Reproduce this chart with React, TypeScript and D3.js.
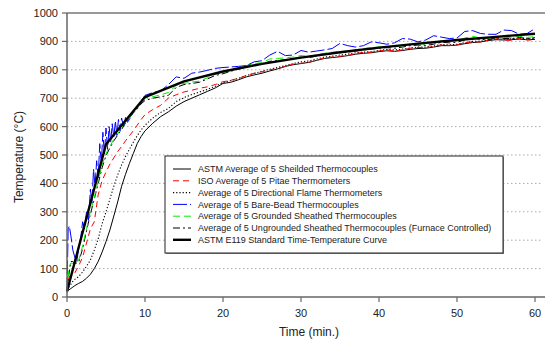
import React from "react";
import * as d3 from "d3";

const timeMain = [0, 0.25, 0.5, 0.75, 1, 1.5, 2, 2.5, 3, 3.5, 4, 4.5, 5, 5.5, 6, 6.5, 7, 7.5, 8, 8.5, 9, 9.5,
  10, 11, 12, 13, 14, 15, 16, 17, 18, 19, 20, 21, 22, 23, 24, 25, 26, 27, 28, 29, 30, 31, 32, 33, 34, 35,
  36, 37, 38, 39, 40, 41, 42, 43, 44, 45, 46, 47, 48, 49, 50, 51, 52, 53, 54, 55, 56, 57, 58, 59, 60];

const shielded = [20, 25, 30, 35, 40, 48, 55, 66, 80, 100, 125, 158, 195, 236, 285, 335, 390, 432, 470, 505, 540, 565,
  585, 612, 635, 652, 672, 688, 700, 712, 724, 736, 752, 756, 765, 775, 782, 788, 796, 803, 812, 818, 822, 826, 833, 840, 843, 846,
  850, 855, 858, 860, 864, 867, 865, 868, 872, 875, 876, 880, 885, 885, 887, 892, 896, 898, 903, 906, 905, 906, 908, 906, 907];

const pitae = [25, 70, 76, 78, 85, 110, 140, 190, 240, 265, 360, 410, 440, 468, 490, 512, 530, 550, 568, 585, 605, 625,
  642, 660, 675, 700, 712, 722, 728, 735, 740, 748, 758, 763, 770, 780, 788, 793, 800, 804, 812, 820, 823, 826, 834, 842, 845, 848,
  850, 858, 861, 862, 866, 870, 866, 870, 876, 879, 878, 882, 888, 886, 888, 895, 899, 898, 905, 910, 904, 904, 910, 905, 905];

const flame = [25, 35, 45, 55, 62, 72, 88, 108, 130, 165, 205, 258, 300, 345, 390, 430, 465, 495, 520, 545, 568, 588,
  605, 630, 650, 664, 688, 702, 713, 722, 731, 742, 755, 762, 770, 780, 787, 795, 802, 808, 815, 822, 828, 831, 838, 845, 848, 852,
  855, 860, 862, 864, 868, 872, 870, 873, 877, 880, 880, 884, 889, 888, 890, 896, 900, 901, 906, 910, 908, 909, 912, 909, 911];

const grounded = [30, 105, 120, 118, 120, 130, 180, 240, 300, 350, 410, 465, 505, 530, 555, 575, 595, 615, 632, 650, 665, 685,
  700, 705, 712, 720, 745, 752, 757, 760, 772, 785, 790, 800, 808, 815, 822, 825, 838, 840, 842, 845, 850, 848, 852, 858, 862, 864,
  866, 870, 875, 878, 880, 882, 880, 885, 890, 892, 890, 896, 902, 900, 902, 912, 918, 912, 910, 918, 915, 914, 918, 914, 917];

const ungrounded = [20, 80, 125, 125, 118, 122, 170, 232, 292, 345, 400, 455, 498, 525, 550, 570, 590, 612, 630, 648, 662, 680,
  692, 700, 705, 710, 738, 748, 752, 756, 768, 780, 786, 795, 802, 810, 816, 820, 830, 832, 836, 840, 845, 843, 848, 853, 857, 860,
  862, 866, 870, 873, 876, 878, 876, 880, 885, 887, 886, 890, 897, 895, 897, 905, 912, 907, 906, 913, 910, 910, 914, 910, 913];

const timeBare = [0, 0.15, 0.3, 0.5, 0.75, 1, 1.25, 1.5, 1.75, 2, 2.25, 2.5, 2.75, 3, 3.2, 3.4, 3.6, 3.8, 4, 4.2, 4.4, 4.6, 4.8,
  5, 5.2, 5.4, 5.6, 5.8, 6, 6.2, 6.4, 6.6, 6.8, 7, 7.25, 7.5, 7.75, 8, 8.5, 9, 9.5, 10,
  11, 12, 13, 14, 15, 16, 17, 18, 19, 20, 21, 22, 23, 24, 25, 26, 27, 28, 29, 30, 31, 32, 33, 34, 35,
  36, 37, 38, 39, 40, 41, 42, 43, 44, 45, 46, 47, 48, 49, 50, 51, 52, 53, 54, 55, 56, 57, 58, 59, 60];

const bareBead = [20, 240, 250, 215, 165, 140, 125, 170, 205, 265, 240, 300, 270, 380, 330, 450, 390, 480, 420, 540, 470, 580, 500,
  595, 520, 600, 545, 610, 560, 620, 570, 625, 585, 630, 600, 632, 615, 625, 655, 670, 690, 710,
  720, 725, 748, 775, 770, 788, 792, 798, 805, 808, 810, 812, 815, 828, 832, 852, 865, 850, 852, 868, 862, 866, 870, 875, 893,
  885, 880, 885, 898, 895, 890, 895, 910, 908, 898, 905, 920, 915, 910, 912, 935, 938, 928, 925, 925, 940, 938, 925, 928, 945];

const timeE119 = [0, 5, 10, 15, 20, 25, 30, 35, 40, 45, 50, 55, 60];
const e119 = [20, 538, 704, 759, 794, 821, 843, 862, 878, 892, 905, 916, 927];

const xTicks = [0, 10, 20, 30, 40, 50, 60];
const yTicks = [0, 100, 200, 300, 400, 500, 600, 700, 800, 900, 1000];

const seriesNames = [
  "ASTM Average of 5 Sheilded Thermocouples",
  "ISO Average of 5 Pitae Thermometers",
  "Average of 5 Directional Flame Thermometers",
  "Average of 5 Bare-Bead Thermocouples",
  "Average of 5 Grounded Sheathed Thermocouples",
  "Average of 5 Ungrounded Sheathed Thermocouples (Furnace Controlled)",
  "ASTM E119 Standard Time-Temperature Curve",
];

const W = 545, H = 347;
const left = 67, right = 535, top = 13, bottom = 297;
const FONT = "Liberation Sans, Arial, sans-serif";

export default function App() {
  const x = d3.scaleLinear().domain([0, 60]).range([left, right]);
  const y = d3.scaleLinear().domain([0, 1000]).range([bottom, top]);
  const mk = (ts: number[], vs: number[]) =>
    d3.line<number>().x((_, i) => x(ts[i])).y((v) => y(v))(vs) || "";

  const series = [
    { name: seriesNames[0], t: timeMain, v: shielded, color: "#000", w: 1, dash: "" },
    { name: seriesNames[1], t: timeMain, v: pitae, color: "#ff0000", w: 1, dash: "6,4" },
    { name: seriesNames[2], t: timeMain, v: flame, color: "#000", w: 1.1, dash: "1.2,2" },
    { name: seriesNames[3], t: timeBare, v: bareBead, color: "#0000ff", w: 1, dash: "14,3" },
    { name: seriesNames[4], t: timeMain, v: grounded, color: "#00ee00", w: 1, dash: "7,4" },
    { name: seriesNames[5], t: timeMain, v: ungrounded, color: "#000", w: 1, dash: "7,3,2,3" },
    { name: seriesNames[6], t: timeE119, v: e119, color: "#000", w: 2.4, dash: "" },
  ];

  const drawOrder = [0, 2, 1, 5, 4, 3, 6];
  const legX = 165, legY = 156, legW = 338, legH = 97;

  return (
    <svg width={W} height={H} style={{ position: "absolute", left: 0, top: 0, background: "#fff" }}>
      {yTicks.filter((t) => t > 0 && t < 1000).map((t) => (
        <line key={"g" + t} x1={left} x2={541} y1={y(t)} y2={y(t)} stroke="#aaa" strokeWidth={1} strokeDasharray="1.5,2.5" />
      ))}
      {drawOrder.map((i) => {
        const s = series[i];
        return (
          <path key={"s" + i} d={mk(s.t, s.v)} fill="none" stroke={s.color} strokeWidth={s.w}
            strokeDasharray={s.dash || undefined} strokeLinejoin="round" />
        );
      })}
      <line x1={left} x2={W} y1={top} y2={top} stroke="#777" strokeWidth={1.5} />
      <line x1={left} x2={left} y1={top} y2={bottom} stroke="#666" strokeWidth={1.5} />
      <line x1={left} x2={W} y1={bottom} y2={bottom} stroke="#666" strokeWidth={1.5} />
      {yTicks.map((t) => (
        <g key={"yt" + t}>
          <line x1={left - 5} x2={left} y1={y(t)} y2={y(t)} stroke="#666" strokeWidth={1.2} />
          <text x={58} y={y(t) + 4} textAnchor="end" fontSize={11} fontFamily={FONT} fill="#222">{t}</text>
        </g>
      ))}
      {xTicks.map((t) => (
        <g key={"xt" + t}>
          <line x1={x(t)} x2={x(t)} y1={bottom} y2={bottom + 5} stroke="#666" strokeWidth={1.2} />
          <text x={x(t)} y={317} textAnchor="middle" fontSize={11} fontFamily={FONT} fill="#222">{t}</text>
        </g>
      ))}
      <text x={309} y={336} textAnchor="middle" fontSize={12} fontFamily={FONT} fill="#222">Time (min.)</text>
      <text transform={`translate(23,157) rotate(-90)`} textAnchor="middle" fontSize={12} fontFamily={FONT} fill="#222">Temperature (°C)</text>
      <rect x={legX + 1} y={legY + 1} width={legW} height={legH} fill="#888" />
      <rect x={legX} y={legY} width={legW} height={legH} fill="#fff" stroke="#222" strokeWidth={1} />
      {series.map((s, i) => {
        const cy = 169 + i * 11.8;
        return (
          <g key={"l" + i}>
            <line x1={173} x2={191} y1={cy} y2={cy} stroke={s.color} strokeWidth={s.w}
              strokeDasharray={s.dash || undefined} />
            <text x={198} y={cy + 3.2} fontSize={9} fontFamily={FONT} fill="#222">{s.name}</text>
          </g>
        );
      })}
    </svg>
  );
}
